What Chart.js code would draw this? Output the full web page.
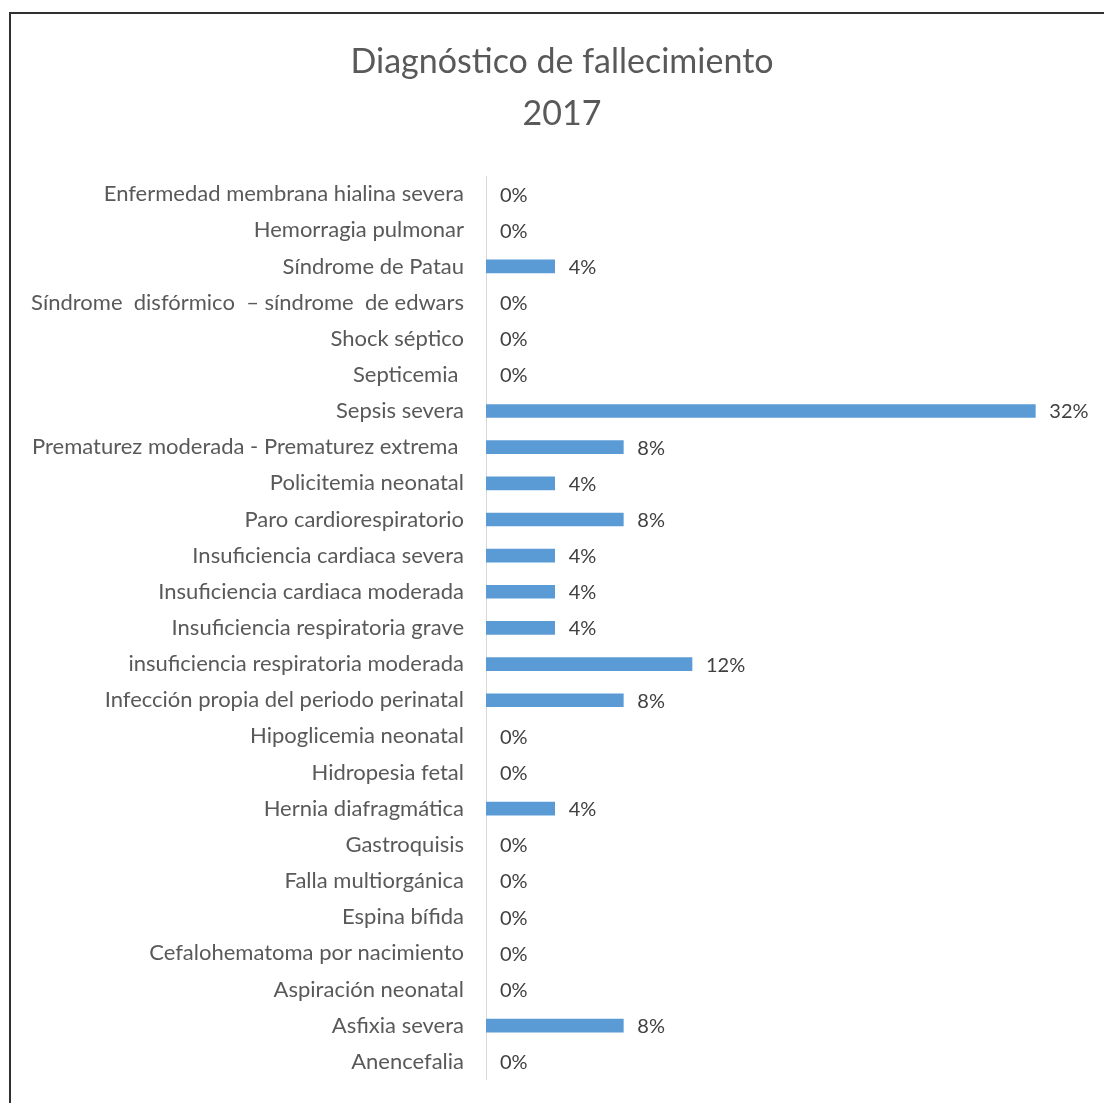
<!DOCTYPE html>
<html>
<head>
<meta charset="utf-8">
<script src="https://cdn.jsdelivr.net/npm/chart.js@4/dist/chart.umd.min.js"></script>
<style>
    html, body { margin: 0; padding: 0; background: #fff; overflow: hidden; }
    #marco {
        position: absolute; left: 9px; top: 12px;
        width: 1300px; height: 1300px;
        border: 2px solid #303030;
    }
    #wrap { position: absolute; left: 0; top: 0; width: 1104px; height: 1115px; }
</style>
</head>
<body>
<div id="marco"></div>
<div id="wrap"><canvas id="grafico"></canvas></div>
<script>
// ===================== DATOS =====================
const categorias = [
    "Enfermedad membrana hialina severa",
    "Hemorragia pulmonar",
    "Síndrome de Patau",
    "Síndrome  disfórmico  – síndrome  de edwars",
    "Shock séptico",
    "Septicemia ",
    "Sepsis severa",
    "Prematurez moderada - Prematurez extrema ",
    "Policitemia neonatal",
    "Paro cardiorespiratorio",
    "Insuficiencia cardiaca severa",
    "Insuficiencia cardiaca moderada",
    "Insuficiencia respiratoria grave",
    "insuficiencia respiratoria moderada",
    "Infección propia del periodo perinatal",
    "Hipoglicemia neonatal",
    "Hidropesia fetal",
    "Hernia diafragmática",
    "Gastroquisis",
    "Falla multiorgánica",
    "Espina bífida",
    "Cefalohematoma por nacimiento",
    "Aspiración neonatal",
    "Asfixia severa",
    "Anencefalia"
];
const porcentajes = [0, 0, 4, 0, 0, 0, 32, 8, 4, 8, 4, 4, 4, 12, 8, 0, 0, 4, 0, 0, 0, 0, 0, 8, 0];
const tituloLineas = ["Diagnóstico de fallecimiento", "2017"];

const fuente = "Lato, 'Open Sans', sans-serif";

// etiquetas de valor al final de cada barra
const etiquetasValor = {
    id: "etiquetasValor",
    afterDatasetsDraw(chart) {
        const ctx = chart.ctx;
        const meta = chart.getDatasetMeta(0);
        ctx.save();
        ctx.font = "20px " + fuente;
        ctx.fillStyle = "#404040";
        ctx.textAlign = "left";
        ctx.textBaseline = "middle";
        meta.data.forEach((bar, i) => {
            ctx.fillText(porcentajes[i] + "%", bar.x + 14, bar.y + 1);
        });
        ctx.restore();
    }
};

const ctx = document.getElementById("grafico").getContext("2d");
new Chart(ctx, {
    type: "bar",
    data: {
        labels: categorias,
        datasets: [{
            data: porcentajes,
            // las barras en cero no se pintan
            backgroundColor: c => (c.raw > 0 ? "#5b9bd5" : "rgba(0,0,0,0)"),
            borderWidth: 0,
            barThickness: 13
        }]
    },
    options: {
        indexAxis: "y",
        responsive: true,
        maintainAspectRatio: false,
        animation: false,
        layout: { padding: { left: 20, right: 0, top: 0, bottom: 3 } },
        plugins: {
            legend: { display: false },
            tooltip: { enabled: false },
            title: {
                display: true,
                text: tituloLineas,
                color: "#595959",
                font: { family: fuente, size: 34, weight: "normal", lineHeight: 1.53 },
                padding: { top: 36, bottom: 36 }
            }
        },
        scales: {
            x: {
                display: false,
                min: 0,
                max: 36
            },
            y: {
                grid: { display: false, drawTicks: false },
                border: { display: true, color: "#d9d9d9", width: 1 },
                ticks: {
                    color: "#595959",
                    padding: 22,
                    autoSkip: false,
                    font: { family: fuente, size: 22 }
                },
                afterFit(scale) { scale.width = 466; }
            }
        }
    },
    plugins: [etiquetasValor]
});
</script>
</body>
</html>
